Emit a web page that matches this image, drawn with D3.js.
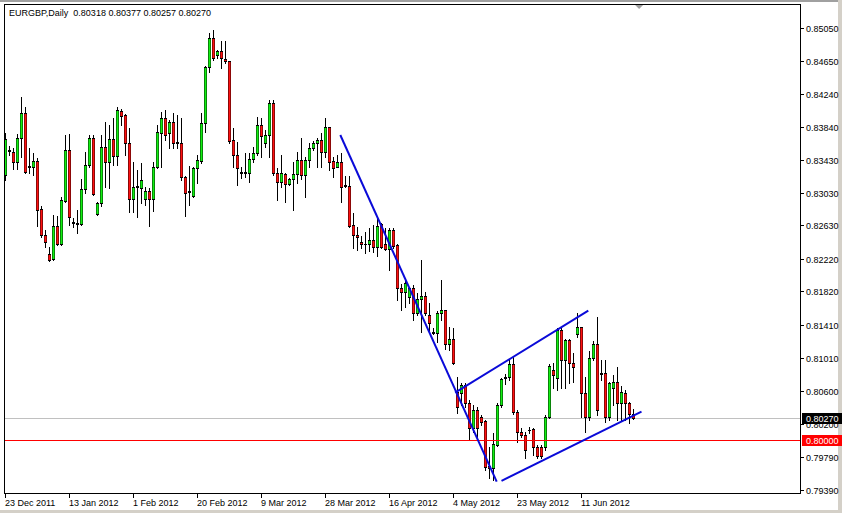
<!DOCTYPE html>
<html><head><meta charset="utf-8">
<script src="https://cdn.jsdelivr.net/npm/d3@7/dist/d3.min.js"></script>
<style>
html,body{margin:0;padding:0;background:#fff;overflow:hidden;}
svg{display:block;}
text{font-family:"Liberation Sans",Arial,sans-serif;font-size:9px;}
</style></head><body>
<svg id="c" width="842" height="513"></svg>
<script>
const symbol = "EURGBP";
const period = "Daily";
const open = [0.83248,0.83542,0.83530,0.83407,0.83701,0.84008,0.83358,0.83346,0.83420,0.82831,0.82512,0.82279,0.82218,0.82623,0.82402,0.82929,0.83554,0.82672,0.82655,0.82647,0.83076,0.83371,0.83701,0.82770,0.82905,0.83591,0.83407,0.83689,0.83481,0.84033,0.83984,0.83640,0.82954,0.83113,0.83088,0.82954,0.83052,0.82954,0.83346,0.83763,0.83947,0.83763,0.83898,0.83652,0.83640,0.83223,0.83052,0.82990,0.83334,0.83420,0.83886,0.84572,0.84927,0.84719,0.84768,0.84670,0.84645,0.83677,0.83493,0.83285,0.83272,0.83272,0.83444,0.83518,0.83861,0.83640,0.83738,0.84131,0.83272,0.83162,0.83260,0.83137,0.83199,0.83260,0.83432,0.83248,0.83432,0.83579,0.83640,0.83677,0.83530,0.83836,0.83420,0.83346,0.83407,0.83125,0.83113,0.82635,0.82512,0.82426,0.82402,0.82402,0.82451,0.82365,0.82647,0.82402,0.82341,0.82574,0.82390,0.81862,0.81813,0.81752,0.81862,0.81556,0.81727,0.81764,0.81531,0.81323,0.81311,0.81556,0.81593,0.81176,0.81237,0.80588,0.80575,0.80673,0.80453,0.80147,0.80367,0.80281,0.80232,0.79681,0.79656,0.79938,0.80428,0.80772,0.80772,0.80931,0.80342,0.80098,0.80061,0.80122,0.80134,0.79914,0.79914,0.79914,0.80281,0.80857,0.80759,0.81348,0.80980,0.81225,0.80943,0.81299,0.81384,0.80575,0.80281,0.81004,0.81176,0.80808,0.80821,0.80281,0.80637,0.80710,0.80453,0.80575,0.80453,0.80318];
const high = [0.83763,0.83603,0.83579,0.83750,0.84204,0.84082,0.83579,0.83518,0.83456,0.82868,0.82574,0.82365,0.82758,0.82745,0.82978,0.83738,0.83750,0.82721,0.82819,0.83199,0.83530,0.83738,0.83738,0.82917,0.83738,0.83898,0.83861,0.83947,0.84082,0.84057,0.83996,0.83824,0.83407,0.83309,0.83395,0.83101,0.83088,0.83407,0.83861,0.84020,0.84045,0.83922,0.84008,0.83984,0.83947,0.83236,0.83358,0.83346,0.83493,0.84008,0.84584,0.84989,0.85026,0.84780,0.84891,0.84891,0.84648,0.83824,0.83652,0.83346,0.83518,0.83518,0.83591,0.83959,0.83947,0.83800,0.84167,0.84167,0.83334,0.83493,0.83272,0.83211,0.83407,0.83530,0.83701,0.83469,0.83640,0.83664,0.83701,0.83763,0.83947,0.83840,0.83469,0.83493,0.83518,0.83236,0.83236,0.82782,0.82611,0.82500,0.82549,0.82598,0.82635,0.82745,0.82660,0.82598,0.82598,0.82598,0.82402,0.81912,0.81961,0.81875,0.81899,0.81801,0.82206,0.81813,0.81678,0.81372,0.81580,0.81961,0.81597,0.81384,0.81372,0.80772,0.80698,0.80698,0.80489,0.80428,0.80403,0.80306,0.80244,0.79914,0.80085,0.80453,0.80759,0.80808,0.80980,0.81029,0.80367,0.80147,0.80098,0.80159,0.80147,0.79938,0.79938,0.80306,0.80931,0.80943,0.81372,0.81372,0.81237,0.81237,0.81066,0.81556,0.81388,0.80772,0.81090,0.81213,0.81507,0.80980,0.80980,0.80710,0.80796,0.80894,0.80661,0.80612,0.80465,0.80377];
const low = [0.83187,0.83493,0.83322,0.83322,0.83469,0.83272,0.83272,0.83248,0.82623,0.82488,0.82365,0.82194,0.82206,0.82390,0.82390,0.82917,0.82635,0.82611,0.82537,0.82635,0.83027,0.83346,0.83003,0.82758,0.82868,0.83101,0.83088,0.83371,0.83371,0.83861,0.83493,0.82794,0.82794,0.82733,0.82905,0.82880,0.82623,0.82807,0.83334,0.83346,0.83677,0.83579,0.83579,0.83579,0.83187,0.82745,0.82880,0.82978,0.83150,0.83395,0.83775,0.84511,0.84658,0.84682,0.84560,0.84621,0.83640,0.83346,0.83125,0.83211,0.83223,0.83162,0.83407,0.83493,0.83469,0.83591,0.83469,0.83248,0.82941,0.83101,0.82917,0.83125,0.82819,0.83150,0.83199,0.82978,0.83346,0.83554,0.83346,0.83346,0.83469,0.83309,0.83223,0.83340,0.82917,0.83101,0.82611,0.82353,0.82328,0.82353,0.82291,0.82316,0.82304,0.82255,0.82353,0.82328,0.82083,0.82353,0.81715,0.81593,0.81630,0.81678,0.81470,0.81531,0.81323,0.81531,0.81323,0.81304,0.81200,0.81470,0.81115,0.81102,0.80931,0.80330,0.80428,0.80403,0.80000,0.80098,0.80000,0.80183,0.79632,0.79534,0.79509,0.79926,0.80403,0.80686,0.80735,0.80318,0.79975,0.80036,0.79779,0.80085,0.79816,0.79779,0.79779,0.79877,0.80269,0.80637,0.80612,0.80637,0.80637,0.80698,0.80710,0.81262,0.80281,0.80098,0.80244,0.80980,0.80306,0.80735,0.80220,0.80244,0.80428,0.80244,0.80244,0.80244,0.80208,0.80257];
const close = [0.83689,0.83554,0.83407,0.83701,0.84008,0.83285,0.83346,0.83420,0.82819,0.82512,0.82426,0.82206,0.82623,0.82402,0.82941,0.83554,0.82733,0.82660,0.82647,0.83076,0.83371,0.83701,0.83015,0.82905,0.83591,0.83407,0.83689,0.83481,0.84045,0.83971,0.83640,0.82954,0.83101,0.83105,0.83187,0.83052,0.82954,0.83346,0.83775,0.83947,0.83738,0.83898,0.83640,0.83645,0.83223,0.83027,0.83044,0.83334,0.83432,0.83886,0.84572,0.84927,0.84682,0.84768,0.84682,0.84645,0.83664,0.83493,0.83334,0.83272,0.83285,0.83444,0.83518,0.83861,0.83726,0.83738,0.84131,0.83272,0.83162,0.83272,0.83137,0.83199,0.83260,0.83432,0.83248,0.83432,0.83579,0.83640,0.83677,0.83530,0.83836,0.83407,0.83334,0.83407,0.83101,0.83113,0.82623,0.82512,0.82488,0.82402,0.82398,0.82451,0.82365,0.82623,0.82365,0.82341,0.82574,0.82377,0.81862,0.81813,0.81924,0.81862,0.81556,0.81727,0.81764,0.81556,0.81433,0.81311,0.81556,0.81593,0.81176,0.81237,0.80943,0.80403,0.80673,0.80453,0.80147,0.80367,0.80147,0.80220,0.79668,0.79656,0.79950,0.80428,0.80747,0.80759,0.80931,0.80342,0.80098,0.80061,0.79877,0.80118,0.79914,0.79803,0.79803,0.80281,0.80906,0.80796,0.81348,0.80980,0.81225,0.80943,0.80894,0.81384,0.80575,0.80281,0.81004,0.81176,0.80367,0.80821,0.80281,0.80698,0.80710,0.80453,0.80588,0.80453,0.80318,0.80270];

const priceTicks = [0.85050,0.84650,0.84240,0.83840,0.83430,0.83030,0.82630,0.82220,0.81820,0.81410,0.81010,0.80600,0.80200,0.79790,0.79390];
const dateLabels = ["23 Dec 2011","13 Jan 2012","1 Feb 2012","20 Feb 2012","9 Mar 2012","28 Mar 2012","16 Apr 2012","4 May 2012","23 May 2012","11 Jun 2012"];
const dateBars = [0,16,32,48,64,80,96,112,128,144];
const levelPrice = 0.80000;
// trend lines: [bar index, price] pairs
const trendStart = [[83.7,0.83738],[112.4,0.80579],[124.0,0.79497]];
const trendEnd   = [[122.8,0.79488],[145.7,0.81584],[159.0,0.80346]];

const W = 842, H = 513;
const L = 4, R = 800, T = 4, B = 493;
const svg = d3.select("#c");

const x = d3.scaleLinear().domain([-0.375, 198.625]).range([L, R]);
const y = d3.scaleLinear().domain([0.79349, 0.853442]).range([B, T]);

// window frame
svg.append("rect").attr("x",0).attr("y",0).attr("width",W).attr("height",H).attr("fill","#fff");
svg.append("rect").attr("x",0).attr("y",0).attr("width",W).attr("height",2).attr("fill","#a0a0a0");
svg.append("rect").attr("x",W-4).attr("y",0).attr("width",4).attr("height",H).attr("fill","#d4d0c8");
svg.append("rect").attr("x",0).attr("y",H-3).attr("width",W).attr("height",3).attr("fill","#d4d0c8");

const g = svg.append("g").attr("shape-rendering","crispEdges");
const px = v => Math.round(v);

// bid line
const last = close.length - 1;
g.append("line").attr("x1",L).attr("x2",R).attr("y1",px(y(close[last]))+0.5).attr("y2",px(y(close[last]))+0.5)
  .attr("stroke","#c0c0c0").attr("stroke-width",1);

// candles
const idx = d3.range(open.length);
const cg = g.append("g");
idx.forEach(i => {
  const cx = Math.floor(x(i));
  const yh = px(y(high[i])), yl = px(y(low[i]));
  cg.append("rect").attr("x",cx).attr("y",yh).attr("width",1).attr("height",Math.max(1,yl-yh+1)).attr("fill","#000");
  const top = px(y(Math.max(open[i],close[i]))), bot = px(y(Math.min(open[i],close[i])));
  const bh = bot - top + 1;
  if (bh <= 1) {
    cg.append("rect").attr("x",cx-1).attr("y",top).attr("width",3).attr("height",1).attr("fill","#000");
  } else {
    const col = close[i] >= open[i] ? "#12f012" : "#ff1010";
    cg.append("rect").attr("x",cx-1).attr("y",top).attr("width",3).attr("height",bh).attr("fill",col);
    cg.append("rect").attr("x",cx-1).attr("y",top).attr("width",3).attr("height",1).attr("fill","#000");
    cg.append("rect").attr("x",cx-1).attr("y",bot).attr("width",3).attr("height",1).attr("fill","#000");
    cg.append("rect").attr("x",cx-1).attr("y",top).attr("width",1).attr("height",bh).attr("fill","#000").attr("opacity",0.45);
    cg.append("rect").attr("x",cx+1).attr("y",top).attr("width",1).attr("height",bh).attr("fill","#000").attr("opacity",0.45);
  }
});

// level line
g.append("line").attr("x1",L).attr("x2",R).attr("y1",px(y(levelPrice))+0.5).attr("y2",px(y(levelPrice))+0.5)
  .attr("stroke","#ff0000").attr("stroke-width",1);

// trend lines
trendStart.forEach((s,k) => {
  const e = trendEnd[k];
  svg.append("line").attr("x1",x(s[0])).attr("y1",y(s[1])).attr("x2",x(e[0])).attr("y2",y(e[1]))
    .attr("stroke","#0a0ad8").attr("stroke-width",2);
});

// frame of plot
g.append("rect").attr("x",L+0.5).attr("y",T+0.5).attr("width",R-L).attr("height",B-T)
  .attr("fill","none").attr("stroke","#000");

// price axis
priceTicks.forEach(p => {
  const yy = px(y(p));
  g.append("rect").attr("x",R).attr("y",yy).attr("width",4).attr("height",1).attr("fill","#000");
  svg.append("text").attr("x",R+6).attr("y",yy+3.5).attr("fill","#000").text(p.toFixed(5));
});

// time axis
dateBars.forEach((b,k) => {
  const xx = Math.floor(x(b));
  g.append("rect").attr("x",xx).attr("y",B).attr("width",1).attr("height",5).attr("fill","#000");
  svg.append("text").attr("x",xx).attr("y",506).attr("fill","#000").text(dateLabels[k]);
});

// price label boxes
function tag(p, bg) {
  const yy = px(y(p));
  svg.append("rect").attr("x",R+2).attr("y",yy-5).attr("width",W-R-2).attr("height",11).attr("fill",bg);
  svg.append("text").attr("x",R+6).attr("y",yy+3.5).attr("fill","#fff").text(p.toFixed(5));
}
tag(close[last], "#000");
tag(levelPrice, "#ff0000");

// shift marker
const sx = x(158.4);
svg.append("path").attr("d",`M${sx-4},${T+1}L${sx+4},${T+1}L${sx},${T+5}Z`).attr("fill","#a0a0a0");

// title
svg.append("text").attr("x",9).attr("y",16).attr("fill","#000")
  .text(`${symbol},${period}  ${[open[last],high[last],low[last],close[last]].map(v=>v.toFixed(5)).join(" ")}`)
  .attr("xml:space","preserve").style("white-space","pre");
</script>
</body></html>
